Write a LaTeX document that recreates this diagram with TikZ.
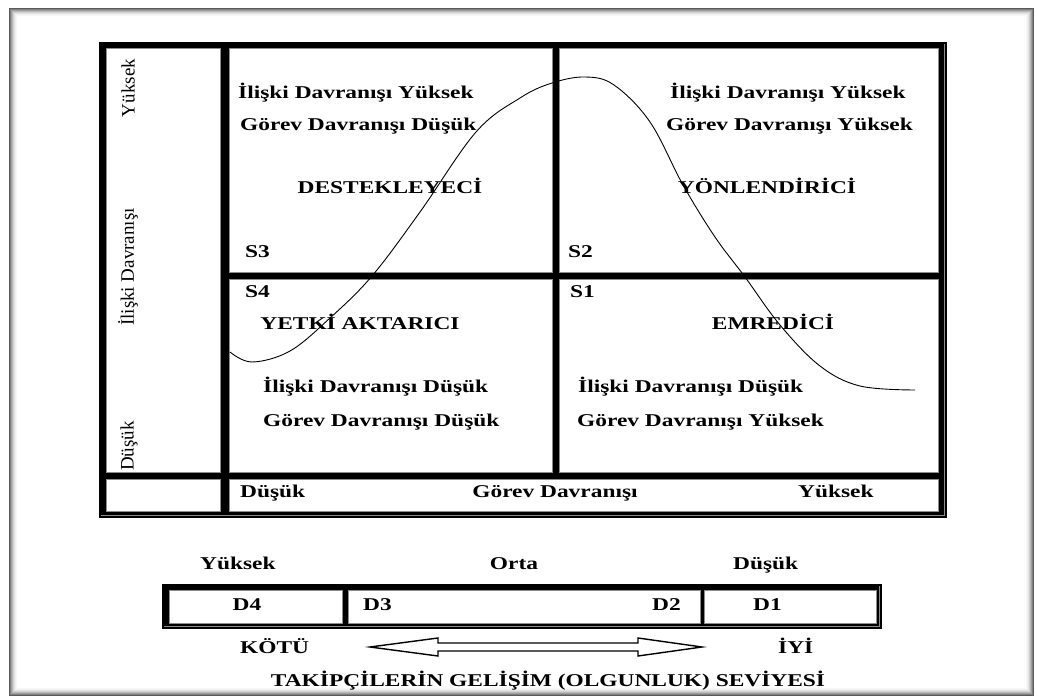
\documentclass[tikz,border=0pt]{standalone}
\usepackage{fontspec}
\setmainfont{Liberation Serif}
\newfontfamily\lblfont{Liberation Serif}[FakeStretch=1.3]
\newfontfamily\axfont{Liberation Serif}
\begin{document}
\begin{tikzpicture}[x=1pt,y=-1pt,
  lbl/.style={font=\lblfont\bfseries\fontsize{18}{20}\selectfont, inner sep=0pt, anchor=base west},
  clbl/.style={lbl, anchor=base},
  axislbl/.style={font=\axfont\fontsize{19}{21}\selectfont, inner sep=0pt, rotate=90},
  cellbox/.style={fill=white, draw=black!45, line width=0.9pt},
  band/.style={fill=black},
  rim/.style={draw=black!45, line width=0.9pt},
  curve/.style={draw=black, line width=0.9pt},
  blockarrow/.style={draw=black, line width=1.4pt, fill=white, line join=miter}
]
\useasboundingbox (0,0) rectangle (1038,700);
\fill[white] (0,0) rectangle (1038,700);

% page frame with a soft inner shadow
\foreach \i/\c in {0/65,1/50,2/38,3/27,4/18,5/11,6/6,7/3}{
  \draw[black!\c, line width=1pt] (9+\i,9+\i) rectangle (1033-\i,695-\i);
}

% ---------------- main table ----------------
\fill[band] (99,42) rectangle (947,518);
\draw[rim] (101,515.5) -- (944.5,515.5) -- (944.5,44);
% axis column
\filldraw[cellbox] (106,48) rectangle (220,472);
\filldraw[cellbox] (106,479) rectangle (220,511);
% quadrants
\filldraw[cellbox] (229,48) rectangle (552,272);
\filldraw[cellbox] (559,48) rectangle (938,272);
\filldraw[cellbox] (229,279) rectangle (552,472);
\filldraw[cellbox] (559,279) rectangle (938,472);
% task behaviour row
\filldraw[cellbox] (229,479) rectangle (938,511);

% vertical axis labels
\node[axislbl] (ayuk) at (128,88) {Yüksek};
\node[axislbl] (aili) at (128,267) {İlişki Davranışı};
\node[axislbl] (adus) at (129,446) {Düşük};

% S3 quadrant
\node[lbl] (tl1) at (238,99) {İlişki Davranışı Yüksek};
\node[lbl] (tl2) at (240,131) {Görev Davranışı Düşük};
\node[clbl] (tlname) at (390,194) {DESTEKLEYECİ};
\node[lbl] (s3) at (245,258) {S3};
% S2 quadrant
\node[lbl] (tr1) at (670,99) {İlişki Davranışı Yüksek};
\node[lbl] (tr2) at (666,131) {Görev Davranışı Yüksek};
\node[clbl] (trname) at (767,194) {YÖNLENDİRİCİ};
\node[lbl] (s2) at (568,258) {S2};
% S4 quadrant
\node[lbl] (s4) at (245,298) {S4};
\node[clbl] (blname) at (360,330) {YETKİ AKTARICI};
\node[lbl] (bl1) at (263,392) {İlişki Davranışı Düşük};
\node[lbl] (bl2) at (263,426) {Görev Davranışı Düşük};
% S1 quadrant
\node[lbl] (s1) at (570,298) {S1};
\node[clbl] (brname) at (773,330) {EMREDİCİ};
\node[lbl] (br1) at (578,392) {İlişki Davranışı Düşük};
\node[lbl] (br2) at (577,426) {Görev Davranışı Yüksek};

% horizontal axis labels
\node[lbl] (gdus) at (240,497) {Düşük};
\node[clbl] (gdav) at (555,497) {Görev Davranışı};
\node[lbl] (gyuk) at (798,497) {Yüksek};

% leadership curve
\draw[curve] plot[smooth, tension=0.6] coordinates {
  (230,352) (252,362) (290,351) (330,318) (372,276) (420,212) (476,132)
  (520,98) (552,83) (585,77) (614,85) (650,122) (683,185) (715,237)
  (745,277) (780,325) (820,366) (860,386) (915,390)};

% ---------------- development bar ----------------
\node[lbl] (lyuk) at (200,569) {Yüksek};
\node[clbl] (lorta) at (514,569) {Orta};
\node[lbl] (ldus) at (733,569) {Düşük};

\fill[band] (162,584) rectangle (882,629);
\draw[rim] (164,626.5) -- (879.5,626.5) -- (879.5,586);
\filldraw[cellbox] (169,590) rectangle (342,623);
\filldraw[cellbox] (348,590) rectangle (700,623);
\filldraw[cellbox] (704,590) rectangle (876,623);

\node[clbl] (d4) at (247,610) {D4};
\node[lbl] (d3) at (363,610) {D3};
\node[lbl] (d2) at (652,610) {D2};
\node[lbl] (d1) at (753,610) {D1};

% maturity scale
\node[lbl] (kotu) at (240,653) {KÖTÜ};
\node[lbl] (iyi) at (778,653) {İYİ};
\coordinate (tipL) at (370,647);
\coordinate (tipR) at (702,647);
\draw[blockarrow] (tipL) -- (438,638) -- (438,643) -- (638,643) -- (638,638)
  -- (tipR) -- (638,656) -- (638,651) -- (438,651) -- (438,656) -- cycle;
\node[clbl] (seviye) at (548,686) {TAKİPÇİLERİN GELİŞİM (OLGUNLUK) SEVİYESİ};
\end{tikzpicture}
\end{document}
